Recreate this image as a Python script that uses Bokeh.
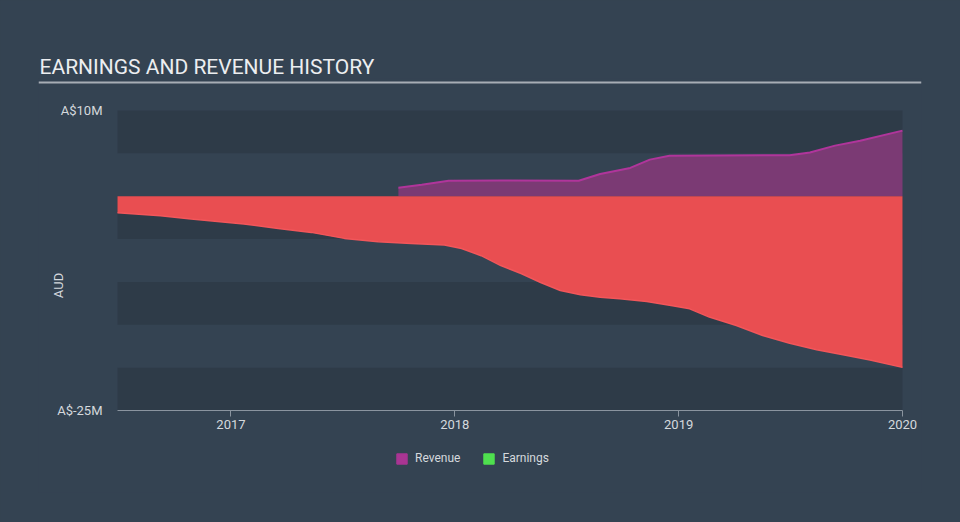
import pandas as pd
from bokeh.plotting import figure
from bokeh.models import (ColumnDataSource, FixedTicker, CustomJSTickFormatter, Legend, LegendItem,
                          Range1d, BoxAnnotation, DatetimeTickFormatter)
from bokeh.embed import file_html
from bokeh.resources import INLINE

# ---- data (A$ millions) ----
earn_dates = ["2016-06-30", "2016-09-08", "2016-10-28", "2017-01-22", "2017-03-19", "2017-05-12",
              "2017-07-05", "2017-08-29", "2017-10-22", "2017-12-15", "2018-01-12", "2018-02-13",
              "2018-03-17", "2018-04-19", "2018-05-21", "2018-06-22", "2018-07-25", "2018-08-26",
              "2018-09-27", "2018-11-10", "2018-12-22", "2019-01-19", "2019-02-20", "2019-04-05",
              "2019-05-18", "2019-07-01", "2019-08-14", "2019-09-26", "2019-11-09", "2020-01-01"]
earnings = [-1.93, -2.28, -2.66, -3.24, -3.76, -4.22, -4.92, -5.31, -5.51, -5.70, -6.10, -6.94,
            -8.09, -9.02, -10.06, -11.00, -11.50, -11.80, -11.97, -12.27, -12.77, -13.14, -14.10,
            -15.09, -16.25, -17.15, -17.92, -18.49, -19.10, -19.97]

rev_dates = ["2017-10-01", "2017-11-08", "2017-12-22", "2018-03-17", "2018-07-22", "2018-08-26",
             "2018-10-14", "2018-11-15", "2018-12-17", "2019-07-01", "2019-08-03", "2019-09-13",
             "2019-10-24", "2020-01-01"]
revenue = [0.99, 1.33, 1.81, 1.83, 1.81, 2.60, 3.30, 4.27, 4.73, 4.78, 5.11, 5.90, 6.48, 7.65]

year_ticks = ["2017-01-01", "2018-01-01", "2019-01-01", "2020-01-01"]
y_ticks = [10, -25]
y_lim = [-25, 10]
x_lim = ["2016-06-30", "2020-01-01"]
series_names = ["Revenue", "Earnings"]
title_text = "EARNINGS AND REVENUE HISTORY"

# ---- layout constants (page pixels) ----
W, H = 960, 522
FRAME_L, FRAME_R, FRAME_T, FRAME_B = 38, 921, 78, 492
PLOT_L, PLOT_R, PLOT_T, PLOT_B = 117, 902, 110, 410
UNDERLINE_Y = 82

BG = "#344352"
BAND = "#2e3b48"
TXT = "#d5d9dd"
FONT = "Roboto"

ms = lambda d: pd.Timestamp(d).value / 1e6
t0, t1 = ms(x_lim[0]), ms(x_lim[1])
xpp = (t1 - t0) / (PLOT_R - PLOT_L)
ylo, yhi = y_lim[0] * 1e6, y_lim[1] * 1e6
ypp = (yhi - ylo) / (PLOT_B - PLOT_T)

x_range = Range1d(t0 - (PLOT_L - FRAME_L) * xpp, t1 + (FRAME_R - PLOT_R) * xpp)
y_range = Range1d(ylo - (FRAME_B - PLOT_B) * ypp, yhi + (PLOT_T - FRAME_T) * ypp)

es = ColumnDataSource(dict(x=pd.to_datetime(earn_dates), y=[v * 1e6 for v in earnings],
                           z=[0.0] * len(earnings)))
rs = ColumnDataSource(dict(x=pd.to_datetime(rev_dates), y=[v * 1e6 for v in revenue],
                           z=[0.0] * len(revenue)))

p = figure(width=W, height=H, x_axis_type="datetime", x_range=x_range, y_range=y_range,
           output_backend="svg", toolbar_location=None,
           min_border_left=FRAME_L, min_border_right=W - FRAME_R,
           min_border_top=FRAME_T, min_border_bottom=H - FRAME_B)
p.styles = {"background-color": BG}
p.background_fill_color = BG
p.border_fill_color = BG
p.outline_line_color = None
p.grid.visible = False

# title
p.title.text = title_text
p.title.text_font = FONT
p.title.text_font_size = "21px"
p.title.text_font_style = "normal"
p.title.text_color = "#eceef0"
p.title.align = "left"
p.title.offset = 1
p.title.standoff = -1

# underline (fill only, spans the full frame width)
uy = yhi + (PLOT_T - UNDERLINE_Y) * ypp
p.add_layout(BoxAnnotation(bottom=uy - 1 * ypp, top=uy + 1 * ypp,
                           fill_color="#a7aeb5", fill_alpha=1, line_color=None))

# alternating bands
for k in range(7):
    if k % 2 == 0:
        top = yhi - k * 5e6
        p.add_layout(BoxAnnotation(left=t0, right=t1, bottom=top - 5e6, top=top,
                                   fill_color=BAND, fill_alpha=1, line_color=None, level="underlay"))

p.varea(x="x", y1="z", y2="y", source=rs, fill_color="#7b3a74")
p.line(x="x", y="y", source=rs, line_color="#b0359b", line_width=2)
p.varea(x="x", y1="z", y2="y", source=es, fill_color="#e94e51")
p.line(x="x", y="y", source=es, line_color="#f2565a", line_width=1.5)

# x axis (fixed at the bottom of the plot area)
xa = p.xaxis[0]
xa.fixed_location = ylo
xa.bounds = (t0, t1)
xa.ticker = FixedTicker(ticks=[ms(d) for d in year_ticks])
xa.formatter = DatetimeTickFormatter(years="%Y", months="%Y", days="%Y")
xa.axis_line_color = "#8a949f"
xa.major_tick_line_color = "#8a949f"
xa.major_tick_out = 6
xa.major_tick_in = 0
xa.minor_tick_line_color = None
xa.major_label_text_color = TXT
xa.major_label_text_font = FONT
xa.major_label_text_font_size = "13px"
xa.major_label_standoff = 3

# y axis
ya = p.yaxis[0]
ya.ticker = FixedTicker(ticks=[v * 1e6 for v in y_ticks])
ya.formatter = CustomJSTickFormatter(code="return 'A$' + (tick/1e6).toFixed(0) + 'M';")
ya.axis_line_color = None
ya.major_tick_line_color = None
ya.minor_tick_line_color = None
ya.major_label_text_color = TXT
ya.major_label_text_font = FONT
ya.major_label_text_font_size = "13px"
ya.major_label_standoff = -70
ya.axis_label = "AUD"
ya.axis_label_text_color = TXT
ya.axis_label_text_font = FONT
ya.axis_label_text_font_size = "13px"
ya.axis_label_text_font_style = "normal"
ya.axis_label_standoff = -12

# legend (inside the frame, below the plot area); swatches use out-of-view quads
off = yhi * 5
r1 = p.quad(left=[t0], right=[t1], bottom=[off], top=[off * 1.1],
            fill_color="#a93593", line_color="#a93593")
r2 = p.quad(left=[t0], right=[t1], bottom=[off], top=[off * 1.1],
            fill_color="#4fe04f", line_color="#4fe04f")
leg = Legend(items=[LegendItem(label=series_names[0], renderers=[r1]),
                    LegendItem(label=series_names[1], renderers=[r2])],
             orientation="horizontal", location=(357, 27),
             background_fill_alpha=0, border_line_color=None,
             label_text_color=TXT, label_text_font=FONT, label_text_font_size="12px",
             glyph_width=13, glyph_height=13, spacing=22, label_standoff=7, padding=4, margin=0)
p.add_layout(leg)

open("out.html", "w").write(file_html(p, INLINE))
